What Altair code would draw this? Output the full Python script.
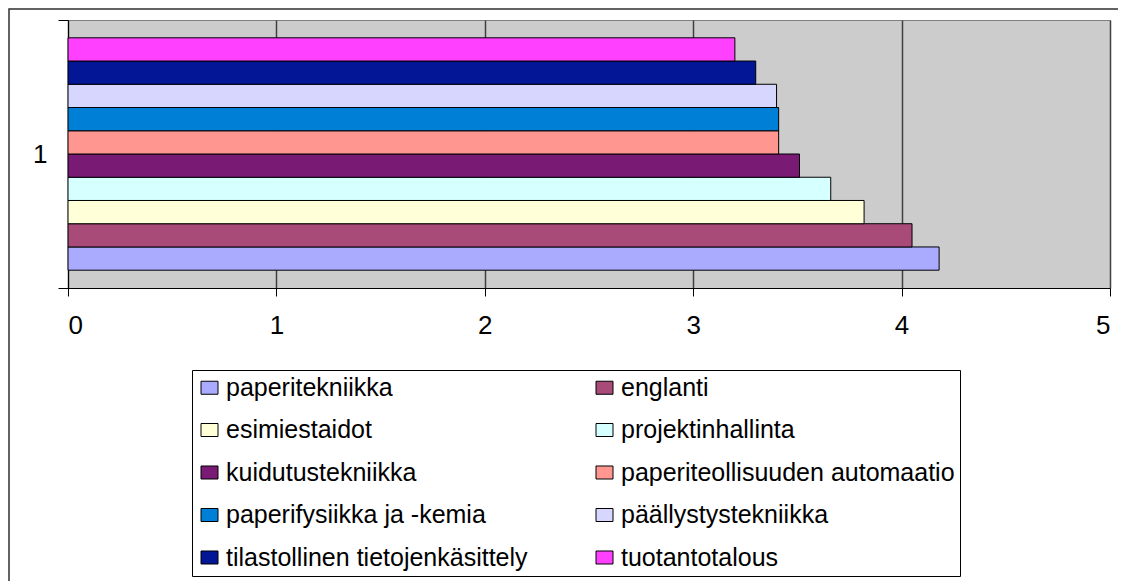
import altair as alt
import pandas as pd

category = ["1"]
series = [
    "paperitekniikka",
    "englanti",
    "esimiestaidot",
    "projektinhallinta",
    "kuidutustekniikka",
    "paperiteollisuuden automaatio",
    "paperifysiikka ja -kemia",
    "päällystystekniikka",
    "tilastollinen tietojenkäsittely",
    "tuotantotalous",
]
values = [4.18, 4.05, 3.82, 3.66, 3.51, 3.41, 3.41, 3.40, 3.30, 3.20]
colors = [
    "#AAAAFF", "#A84B79", "#FFFFD8", "#D6FFFF", "#791A75",
    "#FF968F", "#007FD7", "#D6D6FF", "#031696", "#FF40FF",
]
x_ticks = [0, 1, 2, 3, 4, 5]

df = pd.DataFrame({"cat": category * len(series), "series": series, "value": values})

FONT = "Liberation Sans"

bars = alt.Chart(df).mark_bar(stroke="black", strokeWidth=1).encode(
    x=alt.X(
        "value:Q",
        scale=alt.Scale(domain=[0, 5], nice=False, zero=True),
        axis=alt.Axis(
            values=x_ticks, title=None, grid=True, gridColor="#404040", gridWidth=1.5,
            domainColor="black", tickColor="black", tickSize=8,
            labelFontSize=26, labelFont=FONT, labelColor="black", labelPadding=16,
            format="d",
        ),
    ),
    y=alt.Y(
        "cat:N",
        scale=alt.Scale(paddingInner=0, paddingOuter=0),
        axis=alt.Axis(
            title=None, tickBand="extent", tickSize=10, tickColor="black",
            domainColor="black", labelFontSize=26, labelFont=FONT, labelColor="black",
            labelPadding=11, labelAngle=0,
        ),
    ),
    yOffset=alt.YOffset(
        "series:N", sort=series[::-1],
        scale=alt.Scale(paddingInner=0, paddingOuter=0.766),
    ),
    color=alt.Color(
        "series:N",
        scale=alt.Scale(domain=series, range=colors),
        legend=alt.Legend(
            title=None, orient="none", legendX=124, legendY=350, columns=2,
            direction="horizontal",
            symbolType="M-1,-0.765H1V0.765H-1Z", symbolSize=289,
            symbolStrokeColor="black", symbolStrokeWidth=1, symbolOpacity=1,
            labelFont=FONT, labelFontSize=25, labelColor="black", labelLimit=1000,
            labelOffset=4, rowPadding=16.5, columnPadding=64, padding=5,
            strokeColor="black", fillColor="white",
        ),
    ),
)

frame = alt.Chart(pd.DataFrame({"a": [0]})).mark_rect(
    fill=None, stroke="#303030", strokeWidth=1.5
).encode(
    x=alt.value(-59), y=alt.value(-11), x2=alt.value(3000), y2=alt.value(3000)
)

chart = alt.layer(bars, frame).properties(
    width=1042, height=268,
    autosize=alt.AutoSizeParams(type="none"),
    padding={"left": 60, "top": 12, "right": 8, "bottom": 293},
).configure_view(fill="#CCCCCC", stroke="#808080", strokeWidth=1)

chart.save("out.html", embed_options={"renderer": "svg", "actions": False})
